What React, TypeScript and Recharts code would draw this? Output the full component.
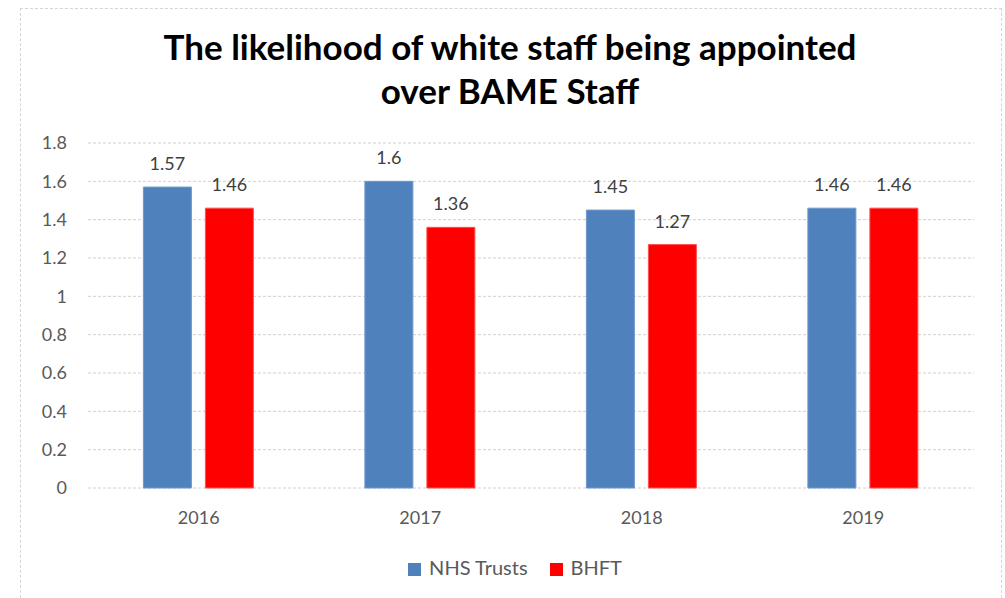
import React from "react";
import { BarChart, Bar, XAxis, YAxis, CartesianGrid, Legend, LabelList } from "recharts";

const years = ["2016", "2017", "2018", "2019"];
const nhsTrusts = [1.57, 1.6, 1.45, 1.46];
const bhft = [1.46, 1.36, 1.27, 1.46];
const yTicks = [0, 0.2, 0.4, 0.6, 0.8, 1, 1.2, 1.4, 1.6, 1.8];

const data = years.map((y, i) => ({ year: y, nhs: nhsTrusts[i], bhft: bhft[i] }));

const FONT = "Lato, 'Open Sans', sans-serif";

export default function App() {
  return (
    <div style={{ position: "absolute", left: 0, top: 0, width: 1005, height: 598, background: "#fff", fontFamily: FONT, overflow: "hidden" }}>
      <div style={{ position: "absolute", left: 20, top: 8, width: 982, height: 620, border: "1px dashed #d4d4d4", boxSizing: "border-box" }} />
      <div style={{ position: "absolute", left: 0, top: 24, width: 1020, textAlign: "center", fontWeight: 700, fontSize: 35, lineHeight: "44px", color: "#000" }}>
        The likelihood of white staff being appointed
        <br />
        over BAME Staff
      </div>
      <div style={{ position: "absolute", left: 0, top: 0 }}>
        <BarChart
          width={1005}
          height={598}
          data={data}
          margin={{ top: 143, right: 31, bottom: 56, left: 0 }}
          barCategoryGap="25%"
          barGap={14}
        >
          <CartesianGrid vertical={false} stroke="#d0d0d0" strokeDasharray="3 2" />
          <XAxis
            dataKey="year"
            axisLine={false}
            tickLine={false}
            tickSize={0}
            tickMargin={23}
            tick={{ fill: "#595959", fontSize: 18, fontFamily: FONT }}
            height={30}
          />
          <YAxis
            domain={[0, 1.8]}
            ticks={yTicks}
            axisLine={false}
            tickLine={false}
            tickSize={0}
            tickMargin={21}
            width={88}
            tick={{ fill: "#595959", fontSize: 18, fontFamily: FONT }}
          />
          <Legend
            verticalAlign="bottom"
            iconType="square"
            iconSize={13}
            itemSorter={(item: any) => (item.value === "NHS Trusts" ? 0 : 1)}
            wrapperStyle={{ top: 555, left: 39, fontSize: 20, fontFamily: FONT, color: "#595959" }}
            formatter={(v) => <span style={{ color: "#595959", marginLeft: 4, marginRight: 12 }}>{v}</span>}
          />
          <Bar dataKey="nhs" name="NHS Trusts" fill="#4f81bd" stroke="#6f98cc" strokeWidth={1} isAnimationActive={false}>
            <LabelList dataKey="nhs" position="top" offset={17} fill="#404040" fontSize={18} fontFamily={FONT} />
          </Bar>
          <Bar dataKey="bhft" name="BHFT" fill="#ff0000" stroke="#ff5050" strokeWidth={1} isAnimationActive={false}>
            <LabelList dataKey="bhft" position="top" offset={17} fill="#404040" fontSize={18} fontFamily={FONT} />
          </Bar>
        </BarChart>
      </div>
    </div>
  );
}
